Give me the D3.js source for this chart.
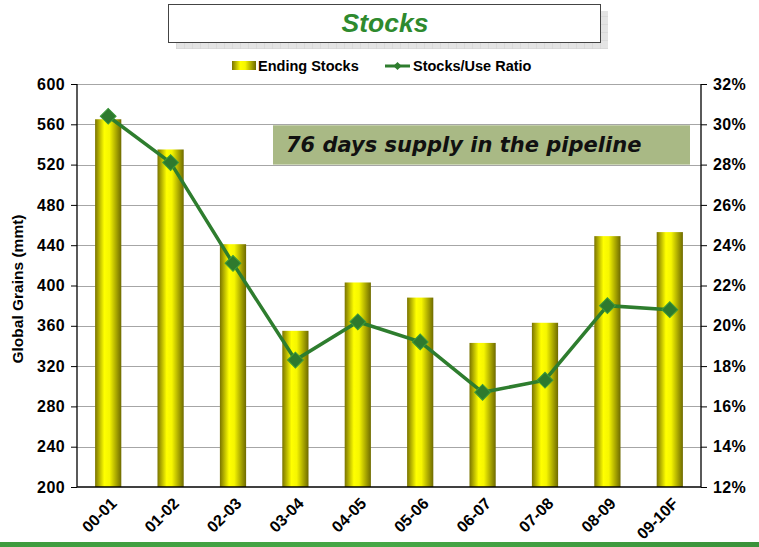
<!DOCTYPE html>
<html>
<head>
<meta charset="utf-8">
<script src="https://cdn.jsdelivr.net/npm/d3@7"></script>
<style>
  body { margin: 0; background: #fff; }
  text { font-family: Arial, "Liberation Sans", sans-serif; }
</style>
</head>
<body>
<div id="chart"></div>
<script>
// set dimensions
var width = 759;
var height = 547;
var margin = {top: 84, right: 58, bottom: 60, left: 77};

var seasons = ["00-01", "01-02", "02-03", "03-04", "04-05", "05-06", "06-07", "07-08", "08-09", "09-10F"];
var endingStocks = [565, 535, 441, 355, 403, 388, 343, 363, 449, 453];
var stocksUseRatio = [30.4, 28.1, 23.1, 18.3, 20.2, 19.2, 16.7, 17.3, 21.0, 20.8];
var leftTicks = [200, 240, 280, 320, 360, 400, 440, 480, 520, 560, 600];
var rightTicks = [12, 14, 16, 18, 20, 22, 24, 26, 28, 30, 32];

var plotW = width - margin.left - margin.right;
var plotH = 487 - margin.top;

var svg = d3.select("#chart")
  .append("svg")
    .attr("width", width)
    .attr("height", height);

var defs = svg.append("defs");

// bar gradient: dark olive edges, bright yellow centre
var barGrad = defs.append("linearGradient").attr("id", "barGrad")
  .attr("x1", "0%").attr("x2", "100%").attr("y1", "0%").attr("y2", "0%");
barGrad.append("stop").attr("offset", "0%").attr("stop-color", "#7a7400");
barGrad.append("stop").attr("offset", "35%").attr("stop-color", "#ffff00");
barGrad.append("stop").attr("offset", "55%").attr("stop-color", "#f6f600");
barGrad.append("stop").attr("offset", "100%").attr("stop-color", "#6e6a00");

var greenGrad = defs.append("linearGradient").attr("id", "greenGrad")
  .attr("x1", "0%").attr("x2", "100%");
greenGrad.append("stop").attr("offset", "0%").attr("stop-color", "#3e9b3e");
greenGrad.append("stop").attr("offset", "50%").attr("stop-color", "#46a746");
greenGrad.append("stop").attr("offset", "100%").attr("stop-color", "#3a923a");

var hatch = defs.append("pattern").attr("id", "hatch")
  .attr("width", 8).attr("height", 8).attr("patternUnits", "userSpaceOnUse");
hatch.append("rect").attr("width", 8).attr("height", 8).attr("fill", "#e4e4e4");
hatch.append("path").attr("d", "M0,0H8M0,0V8").attr("stroke", "#d0d0d0").attr("stroke-width", 1);

// title box with shadow
svg.append("rect").attr("x", 176).attr("y", 11).attr("width", 432).attr("height", 38).attr("fill", "url(#hatch)");
svg.append("rect").attr("x", 168.5).attr("y", 4.5).attr("width", 432).attr("height", 38)
  .attr("fill", "#fff").attr("stroke", "#444").attr("stroke-width", 1);
svg.append("text").attr("x", 385).attr("y", 32)
  .attr("text-anchor", "middle")
  .style("font-size", "26.5px").style("font-weight", "bold").style("font-style", "italic")
  .attr("fill", "#2e8a2e")
  .text("Stocks");

var diamond = function(size) { return d3.symbol(d3.symbolSquare, size)(); };

// legend
var legend = svg.append("g").attr("transform", "translate(0,66)");
legend.append("rect").attr("x", 232).attr("y", -5).attr("width", 24).attr("height", 9).attr("fill", "url(#barGrad)");
legend.append("text").attr("x", 258).attr("y", 5).style("font-size", "14.5px").style("font-weight", "bold").text("Ending Stocks");
legend.append("line").attr("x1", 385).attr("x2", 410).attr("y1", 0).attr("y2", 0)
  .attr("stroke", "#2e7d2e").attr("stroke-width", 3);
legend.append("path").attr("d", diamond(34)).attr("transform", "translate(397.5,0) rotate(45)")
  .attr("fill", "#2e7d2e");
legend.append("text").attr("x", 413).attr("y", 5).style("font-size", "14.5px").style("font-weight", "bold").text("Stocks/Use Ratio");

var g = svg.append("g").attr("transform", "translate(" + margin.left + "," + margin.top + ")");

var x = d3.scaleBand().domain(seasons).range([0, plotW]).paddingInner(0.58).paddingOuter(0.29);
var yL = d3.scaleLinear().domain([200, 600]).range([plotH, 0]);
var yR = d3.scaleLinear().domain([12, 32]).range([plotH, 0]);

// gridlines
g.selectAll(".grid").data(leftTicks.slice(1)).enter().append("line")
  .attr("x1", 0).attr("x2", plotW)
  .attr("y1", function(d) { return Math.round(yL(d)) + 0.5; })
  .attr("y2", function(d) { return Math.round(yL(d)) + 0.5; })
  .attr("stroke", "#a6a6a6").attr("stroke-width", 1.2);

// bars
g.selectAll(".bar").data(endingStocks).enter().append("rect")
  .attr("x", function(d, i) { return x(seasons[i]); })
  .attr("y", function(d) { return yL(d); })
  .attr("width", x.bandwidth())
  .attr("height", function(d) { return plotH - yL(d); })
  .attr("fill", "url(#barGrad)");

// annotation box
g.append("rect").attr("x", 196).attr("y", yL(560) + 1).attr("width", 417).attr("height", yL(520) - yL(560) - 1)
  .attr("fill", "#a9b985");
g.append("text").attr("x", 209).attr("y", yL(540) + 7.5)
  .style("font-family", "'DejaVu Sans', Verdana, sans-serif")
  .style("font-size", "21px").style("font-weight", "bold").style("font-style", "oblique")
  .attr("fill", "#111")
  .text("76 days supply in the pipeline");

// axes
var axL = g.append("g").call(d3.axisLeft(yL).tickValues(leftTicks).tickSize(6).tickPadding(6));
var axR = g.append("g").attr("transform", "translate(" + plotW + ",0)")
  .call(d3.axisRight(yR).tickValues(rightTicks).tickSize(6).tickPadding(6).tickFormat(function(d) { return d + "%"; }));
[axL, axR].forEach(function(a) {
  a.select(".domain").attr("stroke", "#000").attr("stroke-width", 1.3).attr("d", "M0,0V" + plotH);
  a.selectAll(".tick line").attr("stroke", "#000");
  a.selectAll("text").style("font-size", "16px").style("font-weight", "bold").attr("fill", "#000")
    .style("letter-spacing", "0.4px")
    .style("font-family", "Arial, 'Liberation Sans', sans-serif");
});
g.append("line").attr("x1", 0).attr("x2", plotW).attr("y1", plotH).attr("y2", plotH)
  .attr("stroke", "#000").attr("stroke-width", 1.3);

// x labels
g.selectAll(".xlab").data(seasons).enter().append("text")
  .attr("transform", function(d) { return "translate(" + (x(d) + x.bandwidth() / 2 + 1) + "," + (plotH + 9) + ") rotate(-45)"; })
  .attr("text-anchor", "end")
  .attr("dy", "0.75em")
  .style("font-size", "16px").style("font-weight", "bold")
  .text(function(d) { return d; });

// y label
svg.append("text").attr("transform", "translate(23,289) rotate(-90)")
  .attr("text-anchor", "middle")
  .style("font-size", "15.5px").style("font-weight", "bold")
  .text("Global Grains (mmt)");

// ratio line
var line = d3.line()
  .x(function(d, i) { return x(seasons[i]) + x.bandwidth() / 2; })
  .y(function(d) { return yR(d); });
g.append("path").datum(stocksUseRatio).attr("d", line)
  .attr("fill", "none").attr("stroke", "#2e7d2e").attr("stroke-width", 3.5);
g.selectAll(".pt").data(stocksUseRatio).enter().append("path")
  .attr("d", diamond(125))
  .attr("transform", function(d, i) { return "translate(" + (x(seasons[i]) + x.bandwidth() / 2) + "," + yR(d) + ") rotate(45)"; })
  .attr("fill", "#2e7a2e").attr("stroke", "#3c9a3c").attr("stroke-width", 1);

// bottom green band
svg.append("rect").attr("x", 0).attr("y", 542).attr("width", width).attr("height", 5).attr("fill", "url(#greenGrad)");
</script>
</body>
</html>
